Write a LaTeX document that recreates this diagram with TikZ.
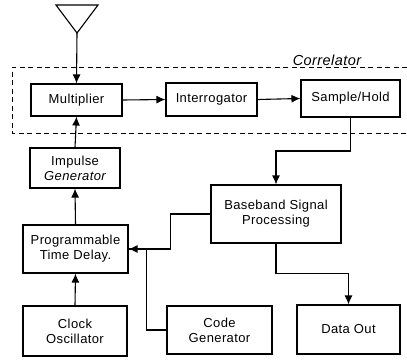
\documentclass[tikz,border=0pt]{standalone}
\usepackage{fontspec}
\setmainfont[LetterSpace=3]{Liberation Sans}
\usetikzlibrary{arrows.meta}

\begin{document}
\begin{tikzpicture}[x=1pt,y=-1pt,
    blk/.style={draw,line width=1.1pt,align=center,inner sep=0pt,
        font=\fontsize{13}{15}\selectfont},
    link/.style={line width=1.1pt,-{Latex[length=9pt,width=8pt]}}]
    \useasboundingbox (0,0) rectangle (407,359);
    % antenna
    \draw [line width=1.1pt] (56,5) -- (98,5) -- (77,33) -- cycle;
    \coordinate (ant) at (77,33);
    % correlator
    \draw [line width=1pt,dash pattern=on 5pt off 3.5pt] (407,67) -- (12,67) -- (12,133) -- (407,133);
    \node [font=\fontsize{14.5}{15}\selectfont\itshape] (corr) at (327,60) {Correlator};
    \node [blk,minimum width=91pt,minimum height=32pt] (mult) at (76.5,100) {Multiplier};
    \node [blk,minimum width=91pt,minimum height=33pt] (inter) at (211.5,99.5) {Interrogator};
    \node [blk,minimum width=99pt,minimum height=37pt] (sh) at (350.5,98.5) {Sample/Hold};
    \node [blk,minimum width=90pt,minimum height=40pt] (imp) at (75,168) {Impulse\\\itshape Generator};
    \node [blk,minimum width=130pt,minimum height=58pt] (bsp) at (276,214) {Baseband Signal\\Processing};
    \node [blk,minimum width=105pt,minimum height=48pt] (ptd) at (75.5,249) {Programmable\\Time Delay.};
    \node [blk,minimum width=104pt,minimum height=50pt] (clk) at (75,331) {Clock\\Oscillator};
    \node [blk,minimum width=105pt,minimum height=48pt] (code) at (219.5,330) {Code\\Generator};
    \node [blk,minimum width=103pt,minimum height=49pt] (out) at (348.5,329.5) {Data Out};
    \coordinate (k1) at (bsp.north |- 0,151);
    \draw [link] (ant) -- (mult.north);
    \draw [link] (mult.east) -- (inter.west);
    \draw [link] (inter.east) -- (sh.west);
    \draw [link] (imp.north) -- (mult.south);
    \draw [link] (ptd.north) -- (imp.south);
    \draw [link] (clk.north) -- (ptd.south);
    \draw [link] (sh.south) |- (k1) -- (bsp.north);
    \draw [link] (bsp.west) -- ++(-40,0) |- (ptd.east);
    \draw [line width=1.1pt] (code.west) -- ++(-20,0) |- (ptd.east);
    \draw [link] (bsp.south) -- ++(0,30) -| (out.north);
\end{tikzpicture}
\end{document}
